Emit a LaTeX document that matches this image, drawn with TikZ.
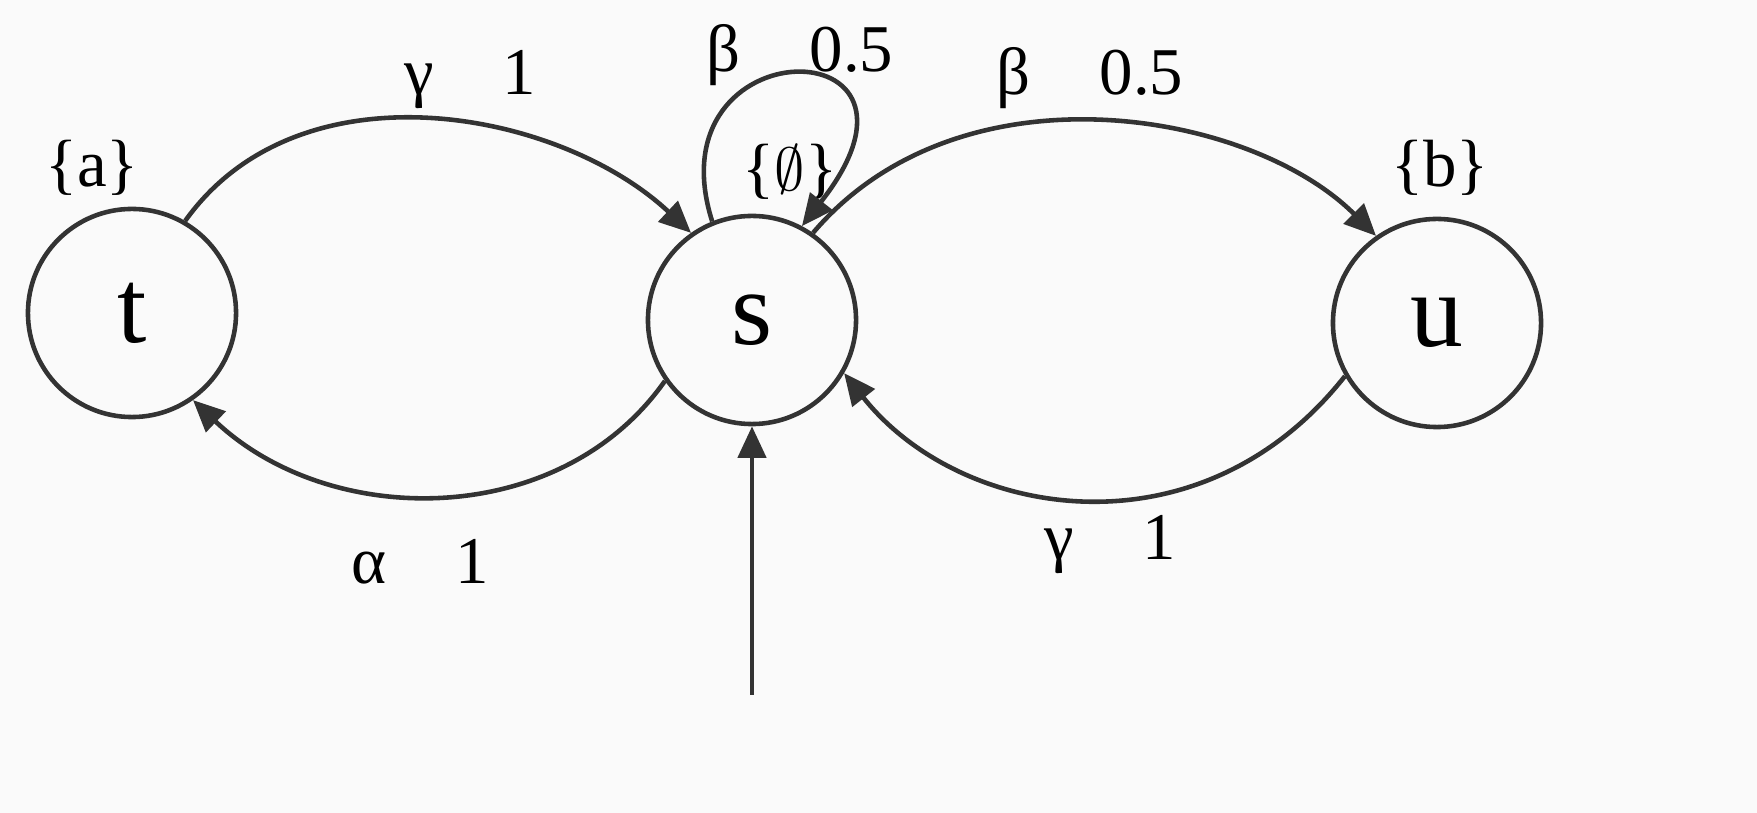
\documentclass[tikz,border=0pt]{standalone}
\usepackage{fontspec}
\setmainfont{Liberation Serif}
\usetikzlibrary{arrows.meta}
\begin{document}
\begin{tikzpicture}[x=0.01cm,y=-0.01cm,
  state/.style={circle,draw=black!80,line width=1.3pt,minimum size=2.08cm,inner sep=0pt,font=\fontsize{30}{30}\selectfont},
  edge/.style={draw=black!80,line width=1.3pt,-{Triangle[length=9pt,width=8pt]}},
  lab/.style={font=\fontsize{19}{20}\selectfont}]
\useasboundingbox[fill=black!2] (0,0) rectangle (1757,813);
\node[state] (t) at (132,313) {t};
\node[state] (s) at (752,320) {s};
\node[state] (u) at (1437,323) {u};
\node[lab] (la) at (92,168) {\{a\}};
\node[lab] (lb) at (1440,168) {\{b\}};
\node[lab] (le) at (790,172) {\{$\emptyset$\}};
\draw[edge] (t.60) .. controls (300,60) and (560,110) .. (s.125);
\draw[edge] (s.-145) .. controls (560,530) and (330,530) .. (t.-55);
\draw[edge] (s.55) .. controls (960,60) and (1250,110) .. (u.125);
\draw[edge] (u.-150) .. controls (1200,560) and (960,520) .. (s.-30);
\draw[edge] (s.112) .. controls (650,25) and (960,25) .. (s.62);
\coordinate (i) at (752,695);
\draw[edge] (i) -- (s.south);
\node[lab] (l1) at (470,80) {γ，\ 1};
\node[lab] (l2) at (420,562) {α，\ 1};
\node[lab] (l3) at (1090,78) {β，\ 0.5};
\node[lab] (l4) at (1110,545) {γ，\ 1};
\node[lab] (l5) at (800,55) {β，\ 0.5};
\end{tikzpicture}
\end{document}
